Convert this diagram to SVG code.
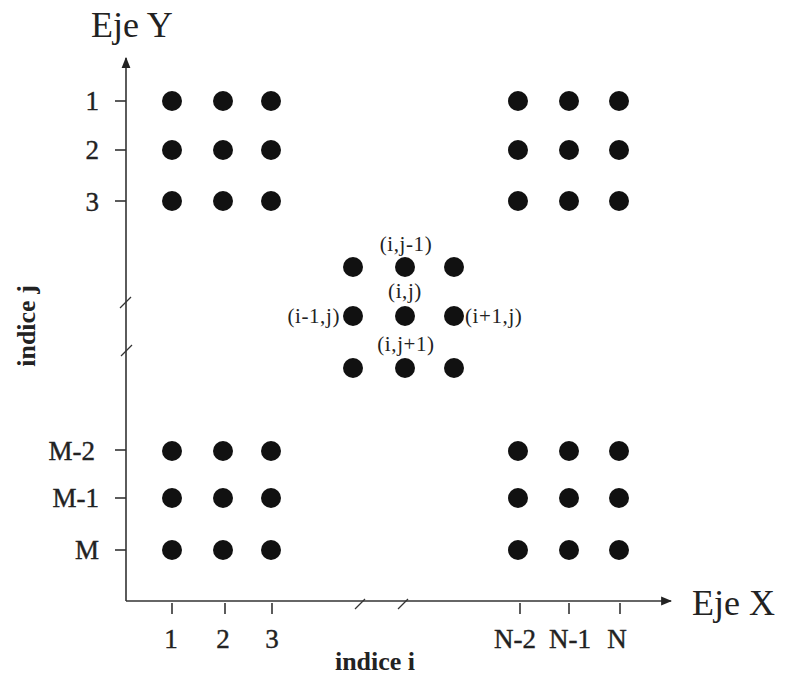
<svg xmlns="http://www.w3.org/2000/svg" width="787" height="677" viewBox="0 0 787 677">
<style>
.ax{stroke:#333;stroke-width:1.6;fill:none}
.tk{stroke:#333;stroke-width:1.6}
.d{fill:#111}
.lbl{font-family:"Liberation Serif",serif;font-size:27px;fill:#222;stroke:#222;stroke-width:0.4}
.ttl{font-family:"Liberation Serif",serif;font-size:26px;font-weight:bold;fill:#222}
.big{font-family:"Liberation Serif",serif;font-size:36px;fill:#222}
.sm{font-family:"Liberation Serif",serif;font-size:21px;letter-spacing:0.6px;fill:#222}
</style>
<defs>
<marker id="ah" viewBox="0 0 10 10" refX="9" refY="5" markerWidth="11" markerHeight="11" markerUnits="userSpaceOnUse" orient="auto">
<path d="M0,1 L10,5 L0,9 Z" fill="#222"/>
</marker>
</defs>
<g id="connectors">
<line class="ax" x1="126" y1="601" x2="126" y2="58" marker-end="url(#ah)"/>
<line class="ax" x1="126" y1="601" x2="671" y2="601" marker-end="url(#ah)"/>
<g class="tk">
<line x1="115" y1="101" x2="126" y2="101"/>
<line x1="115" y1="150" x2="126" y2="150"/>
<line x1="115" y1="201" x2="126" y2="201"/>
<line x1="115" y1="450" x2="126" y2="450"/>
<line x1="115" y1="498" x2="126" y2="498"/>
<line x1="115" y1="550" x2="126" y2="550"/>
<line x1="172" y1="603" x2="172" y2="614"/>
<line x1="225" y1="603" x2="225" y2="614"/>
<line x1="272" y1="603" x2="272" y2="614"/>
<line x1="520" y1="603" x2="520" y2="614"/>
<line x1="569" y1="603" x2="569" y2="614"/>
<line x1="620" y1="603" x2="620" y2="614"/>
<line x1="120" y1="308" x2="131" y2="297" stroke-width="1.2"/>
<line x1="121" y1="356" x2="132" y2="345" stroke-width="1.2"/>
<line x1="355" y1="609" x2="365" y2="599" stroke-width="1.2"/>
<line x1="398" y1="609" x2="408" y2="599" stroke-width="1.2"/>
</g>
</g>
<g id="dots" class="d">
<circle cx="172" cy="101" r="10"/><circle cx="223" cy="101" r="10"/><circle cx="271" cy="101" r="10"/>
<circle cx="172" cy="150" r="10"/><circle cx="223" cy="150" r="10"/><circle cx="271" cy="150" r="10"/>
<circle cx="172" cy="201" r="10"/><circle cx="223" cy="201" r="10"/><circle cx="271" cy="201" r="10"/>
<circle cx="518" cy="101" r="10"/><circle cx="569" cy="101" r="10"/><circle cx="619" cy="101" r="10"/>
<circle cx="518" cy="150" r="10"/><circle cx="569" cy="150" r="10"/><circle cx="619" cy="150" r="10"/>
<circle cx="518" cy="201" r="10"/><circle cx="569" cy="201" r="10"/><circle cx="619" cy="201" r="10"/>
<circle cx="172" cy="451" r="10"/><circle cx="223" cy="451" r="10"/><circle cx="271" cy="451" r="10"/>
<circle cx="172" cy="498" r="10"/><circle cx="223" cy="498" r="10"/><circle cx="271" cy="498" r="10"/>
<circle cx="172" cy="550" r="10"/><circle cx="223" cy="550" r="10"/><circle cx="271" cy="550" r="10"/>
<circle cx="518" cy="451" r="10"/><circle cx="569" cy="451" r="10"/><circle cx="619" cy="451" r="10"/>
<circle cx="518" cy="498" r="10"/><circle cx="569" cy="498" r="10"/><circle cx="619" cy="498" r="10"/>
<circle cx="518" cy="550" r="10"/><circle cx="569" cy="550" r="10"/><circle cx="619" cy="550" r="10"/>
<circle cx="353" cy="267" r="10"/><circle cx="405" cy="267" r="10"/><circle cx="454" cy="267" r="10"/>
<circle cx="353" cy="316" r="10"/><circle cx="405" cy="316" r="10"/><circle cx="454" cy="316" r="10"/>
<circle cx="353" cy="368" r="10"/><circle cx="405" cy="368" r="10"/><circle cx="454" cy="368" r="10"/>
</g>
<g id="labels">
<text class="big" x="91" y="37">Eje Y</text>
<text class="big" x="692" y="615">Eje X</text>
<g class="lbl" text-anchor="end">
<text x="99" y="110">1</text>
<text x="99" y="159">2</text>
<text x="99" y="211">3</text>
<text x="95" y="460">M-2</text>
<text x="99" y="507">M-1</text>
<text x="99" y="559">M</text>
</g>
<g class="lbl" text-anchor="middle">
<text x="171" y="648">1</text>
<text x="223" y="648">2</text>
<text x="272" y="648">3</text>
<text x="515" y="648">N-2</text>
<text x="570" y="648">N-1</text>
<text x="617" y="648">N</text>
</g>
<g class="ttl" text-anchor="middle">
<text x="375" y="670">indice i</text>
<text transform="translate(35,326) rotate(-90)">indice j</text>
</g>
<g class="sm">
<text x="406" y="251" text-anchor="middle">(i,j-1)</text>
<text x="405" y="298" text-anchor="middle">(i,j)</text>
<text x="406" y="351" text-anchor="middle">(i,j+1)</text>
<text x="340" y="323" text-anchor="end">(i-1,j)</text>
<text x="465" y="323">(i+1,j)</text>
</g>
</g>
</svg>
